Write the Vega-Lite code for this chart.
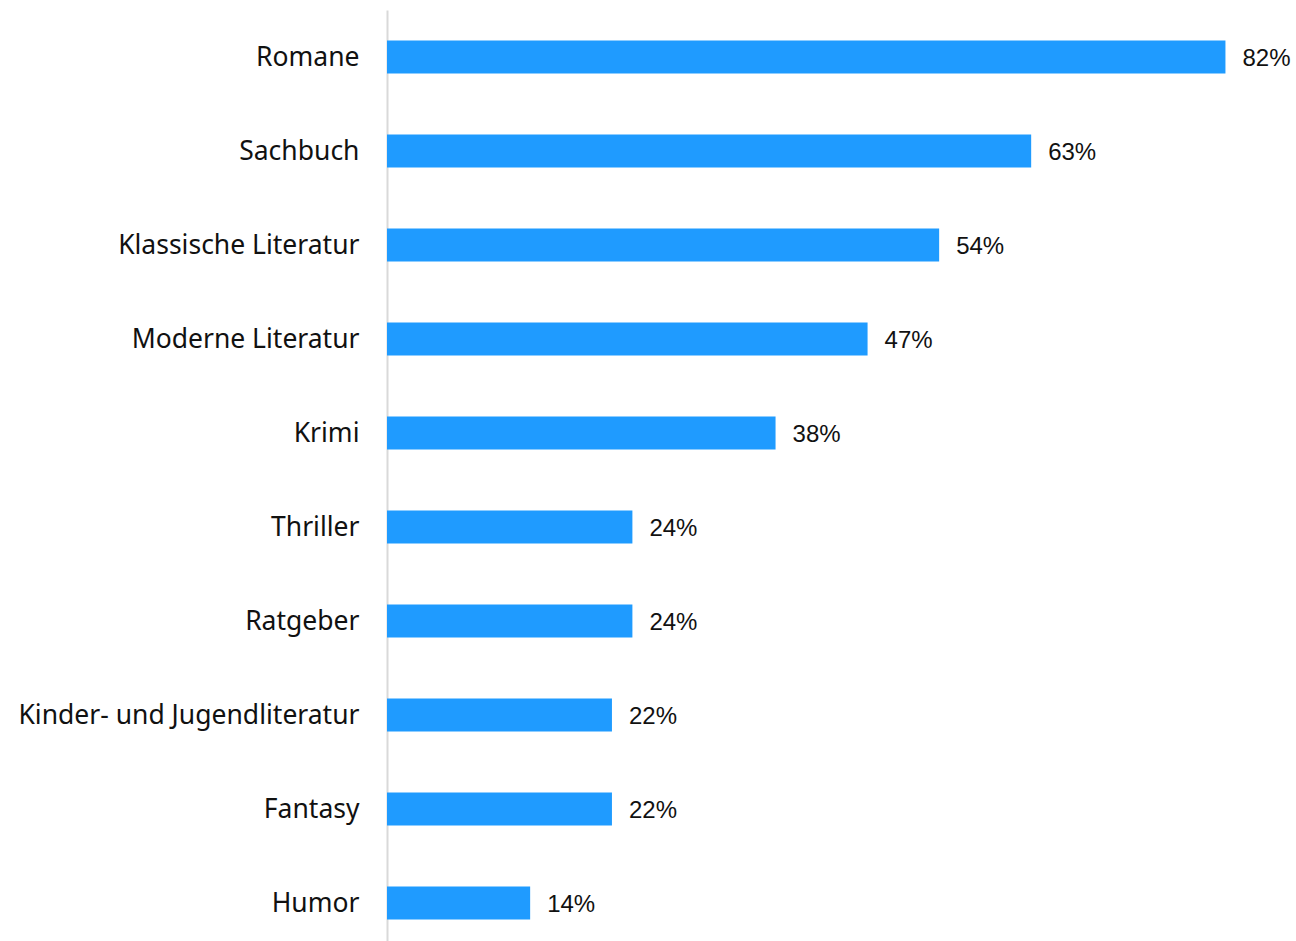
{
  "$schema": "https://vega.github.io/schema/vega-lite/v6.json",
  "autosize": "none",
  "width": 909,
  "height": 940,
  "padding": {"left": 387, "top": 10, "right": 0, "bottom": 0},
  "background": "white",
  "config": {"view": {"stroke": null}},
  "data": {
    "values": [
      {"genre": "Romane", "value": 0.82},
      {"genre": "Sachbuch", "value": 0.63},
      {"genre": "Klassische Literatur", "value": 0.54},
      {"genre": "Moderne Literatur", "value": 0.47},
      {"genre": "Krimi", "value": 0.38},
      {"genre": "Thriller", "value": 0.24},
      {"genre": "Ratgeber", "value": 0.24},
      {"genre": "Kinder- und Jugendliteratur", "value": 0.22},
      {"genre": "Fantasy", "value": 0.22},
      {"genre": "Humor", "value": 0.14}
    ]
  },
  "encoding": {
    "y": {
      "field": "genre",
      "type": "nominal",
      "sort": null,
      "scale": {"paddingInner": 0.65, "paddingOuter": 0.325},
      "axis": {
        "title": null,
        "ticks": false,
        "domainColor": "#d9d9d9",
        "domainWidth": 2,
        "labelFont": "Noto Sans",
        "labelFontSize": 26.5,
        "labelColor": "#111111",
        "labelPadding": 28,
        "labelOffset": 1,
        "labelLimit": 400
      }
    },
    "x": {
      "field": "value",
      "type": "quantitative",
      "scale": {"domain": [0, 0.889]},
      "axis": null
    }
  },
  "layer": [
    {"mark": {"type": "bar", "color": "#1F9BFF"}},
    {
      "mark": {"type": "text", "align": "left", "baseline": "middle", "dx": 17, "dy": 2, "font": "Liberation Sans", "fontSize": 24, "color": "#111111"},
      "encoding": {"text": {"field": "value", "type": "quantitative", "format": ".0%"}}
    }
  ]
}
